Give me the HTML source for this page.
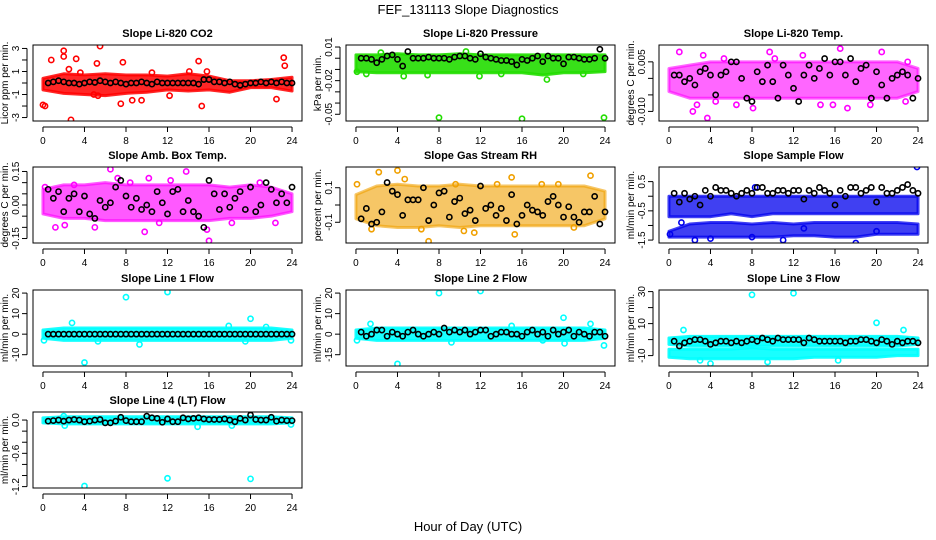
<!DOCTYPE html>
<html><head><meta charset="utf-8"><title>FEF_131113 Slope Diagnostics</title>
<style>
html,body{margin:0;padding:0;background:#fff;}
svg{display:block;font-family:"Liberation Sans",Arial,sans-serif;}
</style></head>
<body>
<svg id="chart" width="936" height="540" viewBox="0 0 936 540">
<text x="468" y="14" text-anchor="middle" font-size="13">FEF_131113  Slope Diagnostics</text>
<text x="468" y="531" text-anchor="middle" font-size="13">Hour of Day (UTC)</text>
</svg>
<script>
// ---- shared data ----
const blackHours = [];
for (let i = 1; i <= 48; i++) blackHours.push(i * 0.5);
const bandHours = [0,2,4,6,8,10,12,14,16,18,20,22,24];
const xTicks = [0,4,8,12,16,20,24];

// CO2
const co2Black = [0,0.1,0.2,0.1,0,0,-0.1,0,0.1,0.05,0.2,0.1,0,0.1,0,-0.1,0,0,0.1,0,-0.1,0.1,0,0,0,0,0,0,0,-0.1,0.3,0.3,0.1,0.1,0,0.1,-0.1,-0.2,-0.1,0,0,0.1,0,0.1,0,0.1,0,0];
const co2Lo = [-0.6,-0.9,-1.0,-1.1,-0.9,-0.8,-0.6,-0.7,-0.6,-0.8,-0.4,-0.4,-0.7];
const co2Hi = [0.4,0.8,0.7,0.8,0.7,0.7,0.6,0.8,0.6,0.2,0.2,0.3,0.5];
const co2OutX = [0,0.2,0.8,2,2,2.7,3.2,2.5,5.2,5.5,7.7,7.5,8.6,12.2,15.8,15,15.3,22.5,23.2,23.3,4.9,5.3,9.5,3.6,10.5,14.1];
const co2OutY = [-1.9,-2.0,2.0,2.8,2.3,-3.2,2.1,1.2,1.7,3.2,1.8,-1.8,-1.5,-1.1,1.0,1.9,-2.0,-1.4,2.2,1.5,-1.0,-1.1,-1.5,0.9,0.9,1.0];
// Pressure
const prsBlack = [0.0,0.0,-0.001,-0.004,-0.001,0.002,0.003,-0.001,-0.007,0.006,0.0,0.0,0.0,0.001,0.0,0.0,0.0,-0.001,0.001,0.002,0.002,0.0,-0.001,0.004,0.001,0.0,-0.001,-0.002,-0.002,-0.003,-0.006,-0.001,-0.002,0.0,0.002,-0.003,0.002,0.0,0.0,-0.005,0.001,0.001,0.0,-0.001,-0.001,0.0,0.008,0.0];
const prsLo = [-0.012,-0.013,-0.013,-0.013,-0.013,-0.013,-0.013,-0.013,-0.013,-0.015,-0.013,-0.013,-0.012];
const prsHi = [0.003,0.003,0.004,0.003,0.003,0.004,0.003,0.003,0.003,0.003,0.003,0.003,0.003];
const prsOutX = [0.1,2.4,4.6,6.9,8,11.9,16,18.4,23.9,1.0,14.0,21.9,10.6];
const prsOutY = [-0.012,0.005,-0.016,-0.015,-0.053,-0.016,-0.054,-0.019,-0.053,-0.014,-0.014,-0.014,0.006];
// Li-820 Temp
const tmpBlack = [0.001,0.001,-0.001,0.0,-0.002,0.002,0.003,0.001,-0.005,0.001,0.002,0.005,0.005,0.0,-0.006,-0.007,0.002,-0.001,0.004,-0.001,-0.006,0.004,0.001,-0.003,-0.007,0.001,0.004,0.0,0.003,0.006,0.001,0.005,0.005,0.001,0.006,-0.001,0.003,0.004,-0.006,0.002,-0.002,-0.006,0.0,0.001,0.002,0.001,-0.006,0.0];
const tmpLo = [-0.004,-0.006,-0.006,-0.006,-0.006,-0.006,-0.006,-0.006,-0.006,-0.006,-0.006,-0.006,-0.004];
const tmpHi = [0.003,0.004,0.005,0.005,0.005,0.005,0.005,0.005,0.005,0.005,0.005,0.005,0.003];
const tmpOutX = [1.0,3.3,3.7,2.3,2.7,5.3,8.1,9.7,15.8,16.5,17.2,19.4,20.5,22.8,12.9,6.5,10.2,4.5,23.0,14.6];
const tmpOutY = [0.008,0.007,-0.012,-0.010,-0.008,0.006,-0.009,0.008,-0.008,0.009,-0.009,-0.008,0.008,-0.007,0.007,-0.008,0.006,-0.007,0.005,-0.008];
// Amb Box Temp
const ambBlack = [0.07,0.03,0.06,-0.03,0.03,0.05,-0.03,0.04,-0.04,-0.06,0.02,-0.01,0.01,0.08,0.11,0.04,-0.01,0.03,-0.02,0.0,-0.03,0.06,0.01,-0.04,0.06,0.07,-0.03,0.02,-0.03,-0.05,-0.1,0.11,0.05,-0.02,0.05,-0.01,0.03,0.06,-0.02,0.08,-0.03,0.0,0.1,0.07,0.01,0.05,0.01,0.08];
const ambLo = [-0.04,-0.06,-0.06,-0.07,-0.07,-0.07,-0.07,-0.07,-0.07,-0.06,-0.06,-0.05,-0.03];
const ambHi = [0.07,0.09,0.09,0.1,0.09,0.09,0.09,0.09,0.09,0.08,0.09,0.08,0.05];
const ambOutX = [0.2,1.2,3.0,5.0,6.5,7.2,9.8,10.2,13.8,16.0,15.8,11.2,20.9,18.2,2.1,12.3,22.4,8.4];
const ambOutY = [0.08,-0.1,0.09,-0.1,0.16,0.12,-0.12,0.12,0.15,-0.16,-0.11,-0.08,0.1,-0.08,-0.09,0.11,-0.08,0.1];
// Gas Stream RH
const rhBlack = [-0.08,-0.02,-0.11,-0.1,-0.04,0.13,0.08,0.06,-0.06,0.03,0.03,0.03,0.1,-0.09,0.0,0.07,0.08,-0.07,0.02,0.04,-0.05,-0.03,-0.09,0.11,-0.02,0.0,-0.06,-0.02,-0.09,0.06,-0.11,-0.06,0.0,-0.03,-0.04,-0.06,0.02,0.05,0.0,-0.07,-0.01,-0.07,-0.1,-0.04,-0.04,0.05,-0.11,-0.04];
const rhLo = [-0.08,-0.12,-0.13,-0.13,-0.12,-0.13,-0.12,-0.12,-0.12,-0.12,-0.12,-0.12,-0.08];
const rhHi = [0.06,0.11,0.12,0.11,0.11,0.12,0.11,0.11,0.11,0.11,0.11,0.11,0.08];
const rhOutX = [0.1,2.2,4.0,4.7,7.0,9.6,11.4,13.6,15.3,15.0,19.5,22.6,1.5,6.3,17.9,21.0,10.4];
const rhOutY = [0.12,0.19,0.2,0.15,-0.21,0.12,-0.16,0.12,-0.17,0.16,0.12,0.17,-0.14,-0.14,0.12,-0.13,-0.15];
// Sample Flow
const smpBlack = [0.1,-0.2,0.1,-0.1,0.0,-0.3,0.2,0.0,0.3,0.2,0.2,0.1,0.0,0.1,0.2,0.1,0.3,0.3,0.1,0.1,0.2,0.2,0.1,0.2,0.2,-0.1,0.2,0.1,0.3,0.2,0.1,-0.3,0.2,0.0,0.3,0.3,0.1,0.2,0.3,-0.2,0.3,0.1,0.1,0.2,0.3,0.4,0.2,0.1];
const smpLo = [-0.7,-0.7,-0.7,-0.6,-0.7,-0.6,-0.6,-0.6,-0.6,-0.6,-0.6,-0.6,-0.6];
const smpHi = [0.0,0.0,0.0,0.0,0.0,0.0,0.0,0.0,0.0,0.0,0.0,0.0,0.0];
const smpLo2 = [-1.4,-1.4,-1.4,-1.4,-1.4,-1.4,-1.35,-1.35,-1.4,-1.4,-1.3,-1.3,-1.3];
const smpHi2 = [-1.2,-0.95,-0.9,-0.9,-0.95,-0.9,-0.95,-0.9,-0.9,-0.9,-0.9,-0.9,-0.95];
const smpOutX = [0.1,2.5,8.0,8.3,13.0,18.0,23.9,4.0,11.0,20.0,1.2];
const smpOutY = [-1.3,-1.5,-1.4,0.3,-1.1,-1.6,1.0,-1.45,-1.5,-1.2,-0.9];
// Line 1
const l1Black = [0,0,0,0,0,0,0,0,0,0,0,0,0,0,0,0,0,0,0,0,0,0,0,0,0,0,0,0,0,0,0,0,0,0,0,0,0,0,0,0,0,0,0,0,0,0,0,0];
const l1Lo = [-2,-3,-3,-3,-3,-3,-3,-3,-3,-3,-3,-3,-2];
const l1Hi = [2,3,3,3,3,3,3,3,3,3,3,3,2];
const l1OutX = [0.1,2.8,4.0,8.0,9.3,12.0,17.9,19.5,20.0,21.5,23.9,5.3];
const l1OutY = [-3,5.5,-13.8,18,-5,20.5,4,-3.5,7.5,3.5,-3,-3.5];
// Line 2
const l2Black = [1,-1,0,2,2,-1,1,0,-1,1,2,0,-1,0,1,0,3,1,2,1,2,0,1,2,2,-1,0,1,1,0,0,-1,1,2,0,1,-1,2,0,1,2,-1,1,0,-1,1,1,-1];
const l2Lo = [-2,-3,-3,-3,-3,-3,-3,-3,-3,-3,-3,-3,-2];
const l2Hi = [2,3,3,3,3,3,3,3,3,3,3,3,2];
const l2OutX = [0.1,1.4,4.0,8.0,12.0,15.0,20.0,20.1,22.6,23.9,9.2,18.0];
const l2OutY = [-3,5,-14.5,20,21,4,8,-4.5,5,-5.5,-4,-3];
// Line 3
const l3Black = [-1,-4,-2,-1,0,0,-1,-3,-2,-1,-1,-2,-1,-2,-1,0,-1,1,0,-1,1,0,0,0,0,-2,1,0,-1,-1,-1,-1,-1,-2,-1,-1,0,0,-1,-2,0,-1,-3,-1,-2,-1,-1,-2];
const l3Lo = [-3,-4,-4,-4,-4,-4,-4,-4,-4,-4,-4,-4,-3];
const l3Hi = [1,2,2,2,2,2,2,2,2,2,2,2,1];
const l3Lo2 = [-11,-12,-12,-12,-12,-12,-12,-11,-11,-11,-11,-10,-10];
const l3Hi2 = [-6,-6,-6,-6,-5,-6,-6,-6,-6,-6,-6,-6,-6];
const l3OutX = [1.4,4.0,8.0,12.0,20.0,22.6,9.5,3.0,16.3];
const l3OutY = [6,-15,28,29,10.5,6,-14,-13,-13];
// Line 4
const l4Black = [-0.02,-0.01,0.0,-0.02,0.0,0.01,0.0,-0.03,-0.02,0.0,0.01,-0.05,-0.05,-0.02,0.05,-0.01,-0.03,-0.03,-0.03,0.07,0.04,0.03,-0.04,0.02,-0.03,-0.03,0.04,0.02,0.03,0.04,0.02,0.01,0.01,0.01,0.02,0.0,-0.03,0.03,0.0,0.09,0.01,0.0,0.0,0.05,-0.02,0.0,-0.01,-0.01];
const l4Lo = [-0.05,-0.07,-0.07,-0.07,-0.07,-0.07,-0.07,-0.07,-0.07,-0.07,-0.07,-0.07,-0.05];
const l4Hi = [0.04,0.06,0.06,0.06,0.06,0.06,0.06,0.06,0.06,0.06,0.06,0.06,0.04];
const l4OutX = [2.0,2.1,4.0,12.0,14.9,18.2,20.0,23.9];
const l4OutY = [0.07,-0.1,-1.19,-1.05,-0.12,-0.1,-1.06,-0.08];

// ---- layout ----
const colLeft = [33, 346, 659];
const rowTop = [45, 167, 290, 412];
const boxW = 269, boxH = 76;
const NS = 'http://www.w3.org/2000/svg';
const svg = document.getElementById('chart');

const panels = [
 {key:'co2', title:'Slope Li-820 CO2', ylab:'Licor ppm per min.', col:0,row:0, ylim:[-3.3,3.3], ticks:[-3,-2,-1,0,1,2,3], labels:{'3':'3','1':'1','-1':'-1','-3':'-3'}, color:'#ff0000', op:0.85,
  black:co2Black, bands:[[co2Lo,co2Hi]], ox:co2OutX, oy:co2OutY},
 {key:'pressure', title:'Slope Li-820 Pressure', ylab:'kPa per min.', col:1,row:0, ylim:[-0.056,0.0118], ticks:[0.01,0,-0.01,-0.02,-0.03,-0.04,-0.05], labels:{'0.01':'0.01','-0.02':'-0.02','-0.05':'-0.05'}, color:'#22dd00', op:0.9,
  black:prsBlack, bands:[[prsLo,prsHi]], ox:prsOutX, oy:prsOutY},
 {key:'temp', title:'Slope Li-820 Temp.', ylab:'degrees C per min.', col:2,row:0, ylim:[-0.0129,0.0101], ticks:[0.005,0,-0.005,-0.01], labels:{'0.005':'0.005','-0.01':'-0.010'}, color:'#ff00ff', op:0.6,
  black:tmpBlack, bands:[[tmpLo,tmpHi]], ox:tmpOutX, oy:tmpOutY},
 {key:'ambbox', title:'Slope Amb. Box Temp.', ylab:'degrees C per min.', col:0,row:1, ylim:[-0.17,0.17], ticks:[0.15,0.1,0.05,0,-0.05,-0.1,-0.15], labels:{'0.15':'0.15','0':'0.00','-0.15':'-0.15'}, color:'#ff00ff', op:0.65,
  black:ambBlack, bands:[[ambLo,ambHi]], ox:ambOutX, oy:ambOutY},
 {key:'rh', title:'Slope Gas Stream RH', ylab:'percent per min.', col:1,row:1, ylim:[-0.22,0.22], ticks:[0.1,0,-0.1], labels:{'0.1':'0.1','-0.1':'-0.1'}, color:'#f0a000', op:0.6,
  black:rhBlack, bands:[[rhLo,rhHi]], ox:rhOutX, oy:rhOutY},
 {key:'sample', title:'Slope Sample Flow', ylab:'ml/min per min.', col:2,row:1, ylim:[-1.6,1.0], ticks:[0.5,0,-0.5,-1,-1.5], labels:{'0.5':'0.5','-0.5':'-0.5','-1.5':'-1.5'}, color:'#0000ee', op:0.75,
  black:smpBlack, bands:[[smpLo,smpHi],[smpLo2,smpHi2]], ox:smpOutX, oy:smpOutY},
 {key:'line1', title:'Slope Line 1 Flow', ylab:'ml/min per min.', col:0,row:2, ylim:[-15.5,21.5], ticks:[20,10,0,-10], labels:{'20':'20','10':'10','0':'0','-10':'-10'}, color:'#00ffff', op:0.9,
  black:l1Black, bands:[[l1Lo,l1Hi]], ox:l1OutX, oy:l1OutY},
 {key:'line2', title:'Slope Line 2 Flow', ylab:'ml/min per min.', col:1,row:2, ylim:[-15.5,21.5], ticks:[20,10,0,-10], labels:{'20':'20','10':'10','0':'0','-10':'-15'}, color:'#00ffff', op:0.9,
  black:l2Black, bands:[[l2Lo,l2Hi]], ox:l2OutX, oy:l2OutY},
 {key:'line3', title:'Slope Line 3 Flow', ylab:'ml/min per min.', col:2,row:2, ylim:[-16.5,31], ticks:[30,20,10,0,-10], labels:{'30':'30','10':'10','-10':'-10'}, color:'#00ffff', op:0.9,
  black:l3Black, bands:[[l3Lo,l3Hi],[l3Lo2,l3Hi2]], ox:l3OutX, oy:l3OutY},
 {key:'line4', title:'Slope Line 4 (LT) Flow', ylab:'ml/min per min.', col:0,row:3, ylim:[-1.225,0.145], ticks:[0,-0.2,-0.4,-0.6,-0.8,-1,-1.2], labels:{'0':'0.0','-0.6':'-0.6','-1.2':'-1.2'}, color:'#00ffff', op:0.9,
  black:l4Black, bands:[[l4Lo,l4Hi]], ox:l4OutX, oy:l4OutY}
];

function mk(tag, attrs, parent) {
  const e = document.createElementNS(NS, tag);
  for (const k in attrs) e.setAttribute(k, attrs[k]);
  (parent || svg).appendChild(e);
  return e;
}

panels.forEach(p => {
  const L = colLeft[p.col], T = rowTop[p.row], R = L + boxW, B = T + boxH;
  const xs = h => L + (h + 0.96) / 25.92 * boxW;
  const ys = v => B - (v - p.ylim[0]) / (p.ylim[1] - p.ylim[0]) * boxH;
  const g = mk('g', {});
  
  

  const clipId = 'clip-' + p.key;
  const cp = mk('clipPath', {id: clipId}, g);
  mk('rect', {x: L, y: T, width: boxW, height: boxH}, cp);

  const title = mk('text', {x: (L + R) / 2, y: T - 8, 'text-anchor': 'middle', 'font-size': 11, 'font-weight': 'bold'}, g);
  title.textContent = p.title;
  
  

  const data = mk('g', {'clip-path': 'url(#' + clipId + ')'}, g);
  
  

  p.bands.forEach((bd, bi) => {
    const lo = bd[0], hi = bd[1];
    let pts = [];
    bandHours.forEach((h, i) => pts.push(xs(h) + ',' + ys(hi[i])));
    for (let i = bandHours.length - 1; i >= 0; i--) pts.push(xs(bandHours[i]) + ',' + ys(lo[i]));
    const poly = mk('polygon', {points: pts.join(' '), fill: p.color, 'fill-opacity': p.op, stroke: p.color, 'stroke-width': 3, 'stroke-linejoin': 'round', 'stroke-opacity': p.op}, data);
    
    
  });
  p.ox.forEach((h, i) => {
    const c = mk('circle', {cx: xs(h), cy: ys(p.oy[i]), r: 2.6, fill: 'none', stroke: p.color, 'stroke-width': 1.6}, data);
    
    
  });
  p.black.forEach((v, i) => {
    const c = mk('circle', {cx: xs(blackHours[i]), cy: ys(v), r: 2.6, fill: 'none', stroke: '#000', 'stroke-width': 1.6}, data);
    
    
  });

  const box = mk('rect', {x: L, y: T, width: boxW, height: boxH, fill: 'none', stroke: '#000', 'stroke-width': 1}, g);
  
  

  const xa = mk('g', {}, g);
  
  
  mk('line', {x1: xs(0), x2: xs(24), y1: B + 6, y2: B + 6, stroke: '#000'}, xa);
  xTicks.forEach(t => {
    mk('line', {x1: xs(t), x2: xs(t), y1: B + 6, y2: B + 11, stroke: '#000'}, xa);
    const tx = mk('text', {x: xs(t), y: B + 23, 'text-anchor': 'middle', 'font-size': 10}, xa);
    tx.textContent = t;
  });

  const ya = mk('g', {}, g);
  
  
  const tmax = Math.max(...p.ticks), tmin = Math.min(...p.ticks);
  mk('line', {x1: L - 6, x2: L - 6, y1: ys(tmax), y2: ys(tmin), stroke: '#000'}, ya);
  p.ticks.forEach(t => {
    mk('line', {x1: L - 11, x2: L - 6, y1: ys(t), y2: ys(t), stroke: '#000'}, ya);
    const lab = p.labels[String(t)];
    if (lab !== undefined) {
      const tx = mk('text', {x: L - 14, y: ys(t), 'text-anchor': 'middle', 'font-size': 10, transform: 'rotate(-90 ' + (L - 14) + ' ' + ys(t) + ')'}, ya);
      tx.textContent = lab;
    }
  });
  const yl = mk('text', {x: L - 25, y: (T + B) / 2, 'text-anchor': 'middle', 'font-size': 10, transform: 'rotate(-90 ' + (L - 25) + ' ' + ((T + B) / 2) + ')'}, g);
  yl.textContent = p.ylab;
  
  
});
</script>
</body></html>
